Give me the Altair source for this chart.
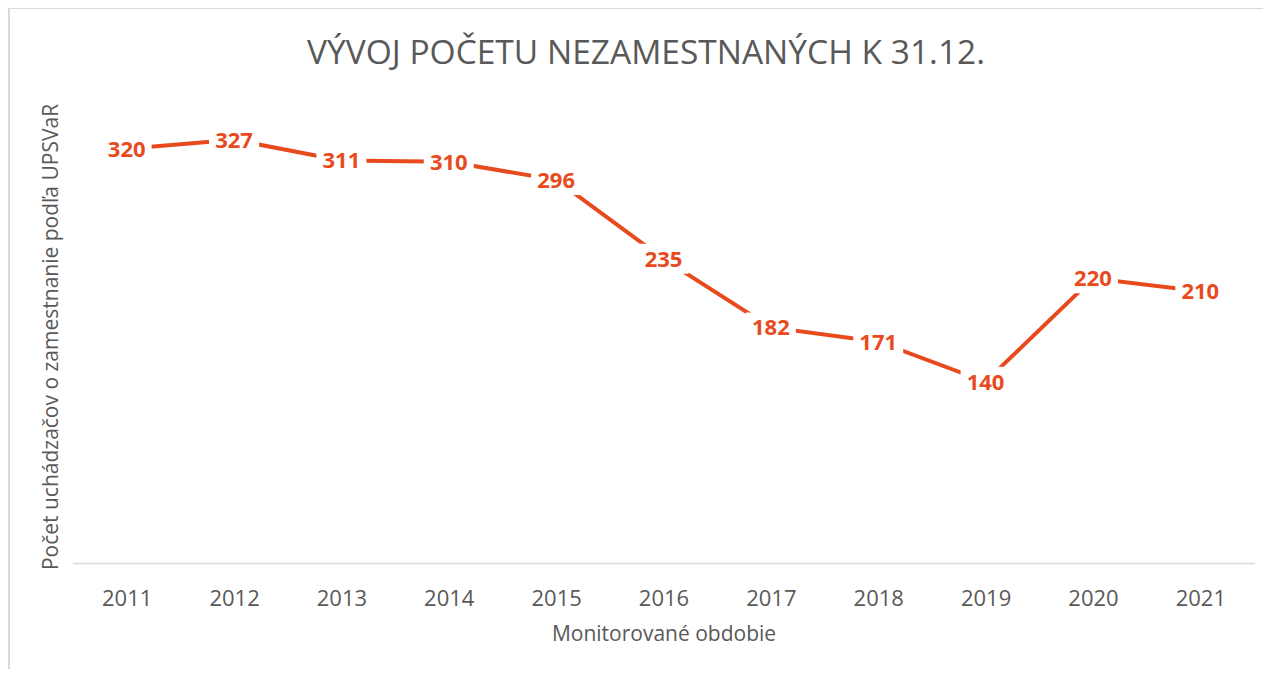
import altair as alt
import pandas as pd

years = ["2011", "2012", "2013", "2014", "2015", "2016", "2017", "2018", "2019", "2020", "2021"]
values = [320, 327, 311, 310, 296, 235, 182, 171, 140, 220, 210]
chart_title = "VÝVOJ POČETU NEZAMESTNANÝCH K 31.12."

df = pd.DataFrame({"rok": years, "pocet": values})

ORANGE = "#E84A1E"
GRAY = "#595959"
FONT = "Open Sans"

x_enc = alt.X(
    "rok:O",
    scale=alt.Scale(type="point", padding=0.5),
    axis=alt.Axis(
        title="Monitorované obdobie",
        labelAngle=0,
        ticks=False,
        domainColor="#D9D9D9",
        domainWidth=1.5,
        labelFontSize=22,
        labelColor=GRAY,
        labelFont=FONT,
        labelPadding=25,
        titleFontSize=21,
        titleFont=FONT,
        titleColor=GRAY,
        titleFontWeight="normal",
        titlePadding=14,
    ),
)
y_enc = alt.Y(
    "pocet:Q",
    scale=alt.Scale(domain=[0, 350]),
    axis=alt.Axis(
        title="Počet uchádzačov o zamestnanie podľa UPSVaR",
        domain=False,
        ticks=False,
        labels=False,
        grid=False,
        titleFontSize=21,
        titleFont=FONT,
        titleColor=GRAY,
        titleFontWeight="normal",
        titlePadding=12,
    ),
)

base = alt.Chart(df).encode(x=x_enc, y=y_enc)

line = base.mark_line(color=ORANGE, strokeWidth=4)
box = base.mark_point(
    shape="M-1,-0.6L1,-0.6L1,0.6L-1,0.6Z",
    size=2500,
    filled=True,
    fill="white",
    opacity=1,
    strokeWidth=0,
)
labels = base.mark_text(
    font=FONT, fontSize=22, fontWeight="bold", color=ORANGE, baseline="middle", dy=1
).encode(text="pocet:Q")

title_df = pd.DataFrame({"t": [chart_title]})
title_mark = alt.Chart(title_df).mark_text(
    font=FONT, fontSize=33.5, color=GRAY, align="center", baseline="alphabetic", clip=False
).encode(x=alt.value(573), y=alt.value(-46), text="t:N")

frame_left = alt.Chart(df).mark_rule(color="#D9D9D9", strokeWidth=1.5, clip=False).encode(
    x=alt.value(-64), y=alt.value(-102), y2=alt.value(570)
)
frame_top = alt.Chart(df).mark_rule(color="#D9D9D9", strokeWidth=1.5, clip=False).encode(
    x=alt.value(-64), x2=alt.value(1200), y=alt.value(-102)
)

chart = (
    alt.layer(frame_left, frame_top, title_mark, line, box, labels)
    .properties(
        width=1181,
        height=453,
        autosize=alt.AutoSizeParams(type="none"),
        padding={"left": 65, "top": 102, "right": 9, "bottom": 106},
    )
    .configure_view(stroke=None)
)

chart.save("out.html", embed_options={"renderer": "svg", "actions": False})
